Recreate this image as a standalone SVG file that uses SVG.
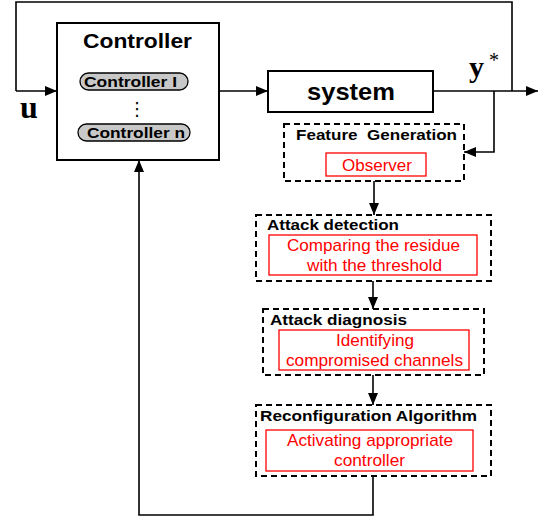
<svg xmlns="http://www.w3.org/2000/svg" width="546" height="521" viewBox="0 0 546 521">
<defs>
<marker id="ah" viewBox="0 0 12 10" refX="12" refY="5" markerWidth="12" markerHeight="10" markerUnits="userSpaceOnUse" orient="auto">
<path d="M0,0 L12,5 L0,10 Z" fill="#000"/>
</marker>
</defs>
<style>
.box{fill:#fff;stroke:#000;stroke-width:2}
.dash{fill:#fff;stroke:#000;stroke-width:2;stroke-dasharray:6,4}
.red{fill:#fff;stroke:#f00;stroke-width:1.3}
.pill{fill:#c8c8c8;stroke:#000;stroke-width:1.3}
.wire{fill:none;stroke:#000;stroke-width:1.6}
.sans{font-family:"Liberation Sans",Arial,sans-serif}
.title{font-family:"Liberation Sans",Arial,sans-serif;font-weight:bold;font-size:15px;fill:#000}
.rt{font-family:"Liberation Sans",Arial,sans-serif;font-size:17px;fill:#f00}
</style>
<g id="connectors">
<polyline class="wire" points="16,91 16,2 512,2 512,91"/>
<line class="wire" x1="16" y1="91" x2="57" y2="91" marker-end="url(#ah)"/>
<line class="wire" x1="219" y1="91" x2="268" y2="91" marker-end="url(#ah)"/>
<line class="wire" x1="433" y1="91" x2="538" y2="91" marker-end="url(#ah)"/>
<polyline class="wire" points="494,91 494,152 464,152" marker-end="url(#ah)"/>
<line class="wire" x1="374" y1="181" x2="374" y2="215" marker-end="url(#ah)"/>
<line class="wire" x1="373" y1="281" x2="373" y2="309" marker-end="url(#ah)"/>
<line class="wire" x1="373" y1="375" x2="373" y2="405" marker-end="url(#ah)"/>
<polyline class="wire" points="373,476 373,515 139,515 139,160" marker-end="url(#ah)"/>
</g>
<g id="controller">
<rect class="box" x="57" y="23" width="162" height="137"/>
<text class="sans" x="83" y="48" font-size="20" font-weight="bold" textLength="109" lengthAdjust="spacingAndGlyphs">Controller</text>
<rect class="pill" x="80" y="73" width="108" height="17" rx="8.5"/>
<text class="sans" x="84" y="87" font-size="15" font-weight="bold" textLength="93" lengthAdjust="spacingAndGlyphs">Controller I</text>
<text x="137" y="115" font-family="'DejaVu Sans',sans-serif" font-size="18" text-anchor="middle">⋮</text>
<rect class="pill" x="78" y="124" width="112" height="17" rx="8.5"/>
<text class="sans" x="87" y="138" font-size="15" font-weight="bold" textLength="98" lengthAdjust="spacingAndGlyphs">Controller n</text>
</g>
<g id="u-label">
<text x="20" y="118" font-family="'Liberation Serif','Times New Roman',serif" font-size="32" font-weight="bold">u</text>
</g>
<g id="system">
<rect class="box" x="268" y="71" width="165" height="41"/>
<text class="sans" x="307" y="100" font-size="24" font-weight="bold" textLength="88" lengthAdjust="spacingAndGlyphs">system</text>
</g>
<g id="y-label">
<text x="469" y="77" font-family="'Liberation Serif','Times New Roman',serif" font-size="30" font-weight="bold">y</text>
<text x="489" y="67" font-family="'Liberation Serif','Times New Roman',serif" font-size="20">*</text>
</g>
<g id="feature-generation">
<rect class="dash" x="284" y="124" width="180" height="57"/>
<text class="title" x="296" y="140" textLength="161" lengthAdjust="spacingAndGlyphs" xml:space="preserve">Feature  Generation</text>
<rect class="red" x="326" y="153" width="100" height="23"/>
<text class="rt" x="342" y="171" textLength="70" lengthAdjust="spacingAndGlyphs">Observer</text>
</g>
<g id="attack-detection">
<rect class="dash" x="256" y="215" width="235" height="66"/>
<text class="title" x="267" y="230" textLength="132" lengthAdjust="spacingAndGlyphs">Attack detection</text>
<rect class="red" x="269" y="235" width="208" height="40"/>
<text class="rt" x="287" y="251" textLength="173" lengthAdjust="spacingAndGlyphs">Comparing the residue</text>
<text class="rt" x="307" y="271" textLength="135" lengthAdjust="spacingAndGlyphs">with the threshold</text>
</g>
<g id="attack-diagnosis">
<rect class="dash" x="263" y="309" width="221" height="66"/>
<text class="title" x="270" y="325" textLength="137" lengthAdjust="spacingAndGlyphs">Attack diagnosis</text>
<rect class="red" x="279" y="330" width="190" height="40"/>
<text class="rt" x="336" y="346" textLength="78" lengthAdjust="spacingAndGlyphs">Identifying</text>
<text class="rt" x="286" y="366" textLength="177" lengthAdjust="spacingAndGlyphs">compromised channels</text>
</g>
<g id="reconfiguration">
<rect class="dash" x="256" y="405" width="235" height="71"/>
<text class="title" x="260" y="421" textLength="217" lengthAdjust="spacingAndGlyphs">Reconfiguration Algorithm</text>
<rect class="red" x="266" y="430" width="207" height="41"/>
<text class="rt" x="287" y="446" textLength="166" lengthAdjust="spacingAndGlyphs">Activating appropriate</text>
<text class="rt" x="334" y="466" textLength="71" lengthAdjust="spacingAndGlyphs">controller</text>
</g>
</svg>
